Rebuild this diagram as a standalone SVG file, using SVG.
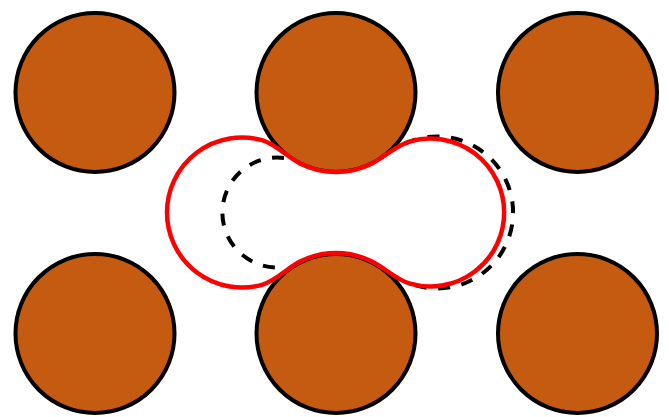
<svg xmlns="http://www.w3.org/2000/svg" xmlns:xlink="http://www.w3.org/1999/xlink" width="669" height="417" viewBox="0 0 669 417">
  <style>
    .grain { fill: #C55A11; stroke: #000000; stroke-width: 4; }
    .pore { fill: #FFFFFF; stroke: none; }
    .poreline { fill: none; stroke: #FF0000; stroke-width: 4.5; stroke-linejoin: round; }
    .dash { fill: none; stroke: #000000; stroke-width: 4; stroke-dasharray: 12 11.5; }
  </style>
  <defs>
    <path id="peanut" d="M 167,212.5 A 75 75 0 0 1 262,140.2 C 275,143.8 288,157.35 300,163.4 A 80 80 0 0 0 372,163.4 C 385,156.85 397,144.95 410,141.3 A 74 74 0 1 1 410,283.7 C 397,280.05 385,268.15 372,261.6 A 80 80 0 0 0 300,261.6 C 288,267.65 275,281.2 262,284.8 A 75 75 0 0 1 167,212.5 Z"/>
  </defs>
  <rect x="0" y="0" width="669" height="417" fill="#FFFFFF"/>
  <g id="grain-top-left"><circle class="grain" cx="95" cy="92.5" r="79.5"/></g>
  <g id="grain-top-middle"><circle class="grain" cx="336" cy="92.5" r="79.5"/></g>
  <g id="grain-top-right"><circle class="grain" cx="577.5" cy="92.5" r="79.5"/></g>
  <g id="grain-bottom-left"><circle class="grain" cx="95" cy="333.5" r="79.5"/></g>
  <g id="grain-bottom-middle"><circle class="grain" cx="336" cy="333.5" r="79.5"/></g>
  <g id="grain-bottom-right"><circle class="grain" cx="577.5" cy="333.5" r="79.5"/></g>
  <g id="pore-fill"><use xlink:href="#peanut" class="pore"/></g>
  <g id="original-pore">
    <path class="dash" d="M 284,157.9 A 55 55 0 1 0 284,267.1"/>
    <path class="dash" d="M 405,143.6 A 76 76 0 1 1 405,281.4"/>
  </g>
  <g id="deformed-pore"><use xlink:href="#peanut" class="poreline"/></g>
</svg>
